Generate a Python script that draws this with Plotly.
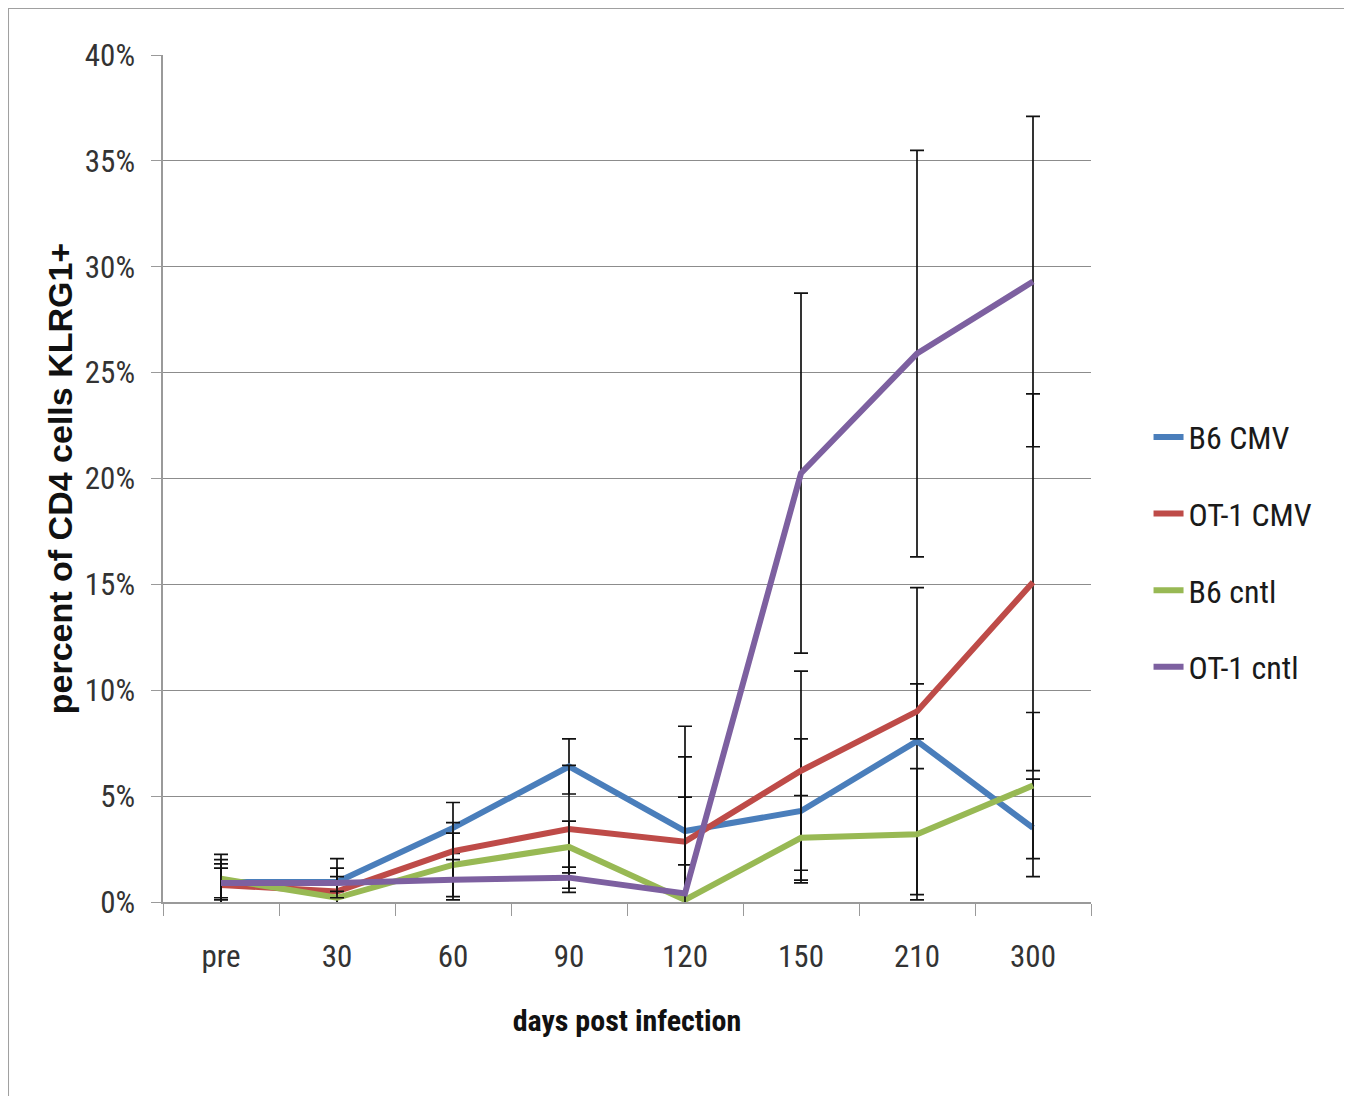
import plotly.graph_objects as go

categories = ["pre", "30", "60", "90", "120", "150", "210", "300"]

b6_cmv = [0.95, 0.95, 3.5, 6.4, 3.35, 4.3, 7.6, 3.5]
b6_cmv_err = [0.85, 1.1, 1.2, 1.3, 4.95, 3.4, 7.25, 2.3]

ot1_cmv = [0.8, 0.5, 2.4, 3.45, 2.85, 6.2, 9.0, 15.1]
ot1_cmv_err = [1.2, 0.7, 1.35, 3.0, 4.0, 4.7, 1.3, 8.9]

b6_cntl = [1.1, 0.2, 1.75, 2.6, 0.1, 3.03, 3.2, 5.5]
b6_cntl_err = [1.15, 0.3, 1.5, 1.22, 4.85, 2.0, 3.1, 3.45]

ot1_cntl = [0.9, 0.9, 1.05, 1.15, 0.4, 20.25, 25.9, 29.3]
ot1_cntl_err = [0.7, 0.7, 0.95, 0.5, 1.35, 8.5, 9.6, 7.8]

series = [
    ("B6 CMV", b6_cmv, b6_cmv_err, "#4A7EBB"),
    ("OT-1 CMV", ot1_cmv, ot1_cmv_err, "#BE4B48"),
    ("B6 cntl", b6_cntl, b6_cntl_err, "#98B954"),
    ("OT-1 cntl", ot1_cntl, ot1_cntl_err, "#7D60A0"),
]

y_tick_vals = [0, 5, 10, 15, 20, 25, 30, 35, 40]
y_tick_text = ["0%", "5%", "10%", "15%", "20%", "25%", "30%", "35%", "40%"]

NARROW = "Liberation Sans Narrow, Roboto Condensed, DejaVu Sans Condensed, Arial Narrow, sans-serif"
WIDE = "Liberation Sans, Arial, sans-serif"

fig = go.Figure()
for name, vals, errs, color in series:
    fig.add_trace(go.Scatter(
        x=categories, y=vals, name=name, mode="lines",
        line=dict(color=color, width=6),
        legendgroup=name,
        error_y=dict(type="data", array=errs, visible=True,
                     color="#111111", thickness=1.7, width=7),
    ))

fig.update_layout(
    width=1352, height=1096,
    paper_bgcolor="white", plot_bgcolor="white",
    margin=dict(l=155, r=269, t=47, b=202),
    showlegend=True,
    legend=dict(
        x=1.062, y=0.413, xanchor="left", yanchor="middle",
        font=dict(family=NARROW, size=32, color="#1a1a1a"),
        tracegroupgap=32, traceorder="grouped",
        bgcolor="rgba(0,0,0,0)",
    ),
    shapes=[dict(type="rect", xref="paper", yref="paper",
                 x0=-0.167, x1=1.276, y0=-0.24, y1=1.0555,
                 line=dict(color="#a0a0a0", width=2), layer="below")],
)

fig.update_xaxes(
    type="category", range=[-0.5, 7.5],
    showline=True, linecolor="#9a9a9a", linewidth=1.5,
    ticks="outside", tickson="boundaries", ticklen=12, tickcolor="#9a9a9a",
    ticklabelstandoff=26,
    tickfont=dict(family=NARROW, size=31, color="#333333"),
    showgrid=False,
    title=dict(text="<b>days post infection</b>", standoff=36,
               font=dict(family=NARROW, size=30, color="#111111")),
)

fig.update_yaxes(
    range=[0, 40], tickmode="array", tickvals=y_tick_vals, ticktext=y_tick_text,
    showline=True, linecolor="#9a9a9a", linewidth=1.5,
    ticks="outside", ticklen=10, tickcolor="#9a9a9a",
    ticklabelstandoff=10,
    tickfont=dict(family=NARROW, size=31, color="#333333"),
    showgrid=True, gridcolor="#8c8c8c", gridwidth=1.2,
    zeroline=False,
    title=dict(text="<b>percent of CD4 cells KLRG1+</b>", standoff=2,
               font=dict(family=WIDE, size=34, color="#111111")),
)

fig.write_html("out.html")
